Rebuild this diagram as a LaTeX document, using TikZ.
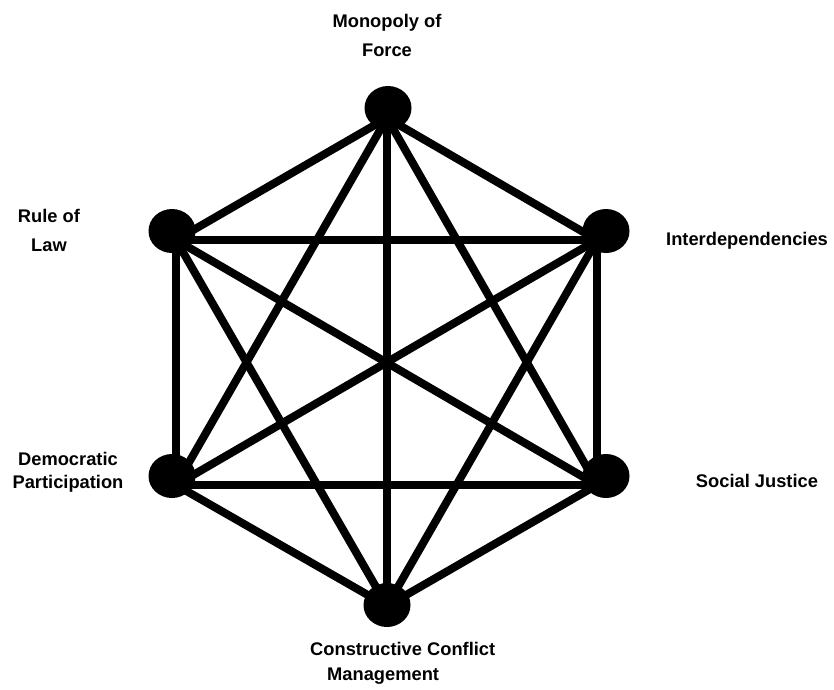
\documentclass[tikz,border=0pt]{standalone}
\usepackage{fontspec}
\setmainfont{Liberation Sans}
\usetikzlibrary{shapes.geometric}
\tikzset{
  dot/.style={shape=ellipse, fill=black, draw=none, minimum width=47pt, minimum height=44pt, inner sep=0pt},
  link/.style={line width=8pt, black},
  lbl/.style={inner sep=0pt, font=\bfseries}
}
\begin{document}
\begin{tikzpicture}[x=1pt,y=-1pt]
\useasboundingbox[fill=white] (0,0) rectangle (834,689);
% line meeting points
\coordinate (vT) at (387,118);
\coordinate (vUL) at (176,240);
\coordinate (vUR) at (597,240);
\coordinate (vLL) at (176,485);
\coordinate (vLR) at (597,485);
\coordinate (vB) at (387,606);
% connectors (complete graph)
\foreach \a/\b in {vT/vUL,vT/vUR,vT/vLL,vT/vLR,vT/vB,
                   vUL/vUR,vUL/vLL,vUL/vLR,vUL/vB,
                   vUR/vLL,vUR/vLR,vUR/vB,
                   vLL/vLR,vLL/vB,vLR/vB}
  \draw[link] (\a) -- (\b);
% nodes
\node[dot] (T) at (388,108) {};
\node[dot] (UL) at (172,231) {};
\node[dot] (UR) at (606,231) {};
\node[dot] (LL) at (172,476) {};
\node[dot] (LR) at (606,476) {};
\node[dot] (B) at (387,605) {};
% labels
\node[lbl, anchor=base] (lT) at (387,27) {\fontsize{18.3}{29}\selectfont\begin{tabular}[t]{@{}c@{}}Monopoly of\\Force\end{tabular}};
\node[lbl, anchor=base] (lUL) at (49,222) {\fontsize{18.3}{29}\selectfont\begin{tabular}[t]{@{}c@{}}Rule of\\Law\end{tabular}};
\node[lbl, anchor=base] (lUR) at (747,245) {\fontsize{18.3}{22}\selectfont Interdependencies};
\node[lbl, anchor=base] (lLL) at (68,465) {\fontsize{18.3}{23}\selectfont\begin{tabular}[t]{@{}c@{}}Democratic\\Participation\end{tabular}};
\node[lbl, anchor=base] (lLR) at (757,487) {\fontsize{18.3}{22}\selectfont Social Justice};
\node[lbl, anchor=base west] (lB) at (310,655) {\fontsize{18.3}{25}\selectfont\begin{tabular}[t]{@{}l@{}}Constructive Conflict\\\hspace*{17pt}Management\end{tabular}};
\end{tikzpicture}
\end{document}
